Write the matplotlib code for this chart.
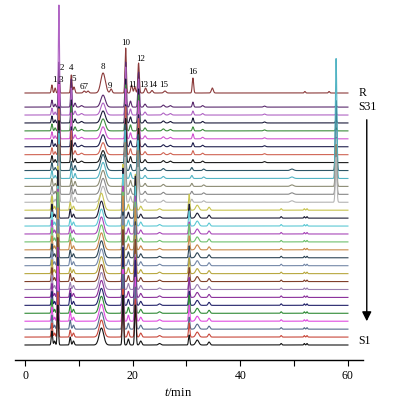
import numpy as np
import matplotlib
matplotlib.use('Agg')
import matplotlib.pyplot as plt

plt.rcParams['font.family'] = 'Liberation Serif'
plt.rcParams['mathtext.fontset'] = 'custom'
plt.rcParams['mathtext.rm'] = 'Liberation Serif'
plt.rcParams['mathtext.it'] = 'Liberation Serif:italic'

# ---- data ----
# trace colours, S1 .. S31, then reference R
colors_S = ['#141414', '#c8473a', '#566a8a', '#e04ce0', '#2f8a35', '#22226a', '#8a2f9a', '#9a80b0',
            '#80402a', '#b8a840', '#7488a8', '#2f4656', '#c88a4a', '#6ec06e', '#a848b8', '#5cc8d4',
            '#1c1c34', '#c8c450', '#b4b4b4', '#888888', '#8c8c74', '#52b4c4', '#2e5666', '#1a1a1a',
            '#d06454', '#20204e', '#d055d0', '#3c8c3c', '#1a1a3a', '#b064c4', '#5a2a6e']
color_R = '#8b3a3a'

# reference R: peak times (min), widths (min), heights
R_t = [5.0, 5.6, 6.3, 8.6, 9.1, 11.0, 11.7, 14.5, 16.0, 18.7, 19.8, 20.4, 21.1, 22.4, 23.6, 26.0, 31.2, 34.8, 52.0, 56.5]
R_w = [0.12, 0.12, 0.11, 0.12, 0.15, 0.18, 0.18, 0.42, 0.18, 0.12, 0.15, 0.15, 0.13, 0.18, 0.18, 0.22, 0.13, 0.18, 0.12, 0.12]
R_h = [8, 5, 22, 18, 6, 2, 2, 20, 4, 45, 8, 6, 30, 5, 2.5, 2, 15, 5, 1.5, 1.5]

# sample groups: times / widths / base heights (key peaks filled per trace)
top_t = [5.0, 5.6, 6.3, 8.6, 9.3, 10.5, 14.5, 18.7, 19.6, 21.1, 22.3, 25.7, 27.0, 31.2, 33.0, 44.5, 57.8]
top_w = [0.12, 0.12, 0.11, 0.11, 0.15, 0.22, 0.42, 0.12, 0.15, 0.13, 0.18, 0.22, 0.22, 0.13, 0.18, 0.2, 0.12]
top_h = [7, 3, 0, 0, 4, 1.5, 12, 0, 6, 0, 3, 2, 1.5, 0, 1.5, 1, 0]

mid_t = [5.0, 5.6, 6.3, 8.6, 9.3, 14.5, 18.6, 19.6, 21.0, 22.3, 25.7, 31.0, 33.2, 49.6, 57.8]
mid_w = [0.12, 0.12, 0.11, 0.11, 0.15, 0.45, 0.12, 0.15, 0.13, 0.18, 0.22, 0.15, 0.18, 0.3, 0.14]
mid_h = [8, 3, 0, 0, 5, 16, 0, 6, 0, 3, 2, 0, 1.5, 1.5, 0]

bot_t = [5.0, 5.5, 6.1, 8.4, 9.0, 14.2, 18.2, 19.2, 20.5, 21.5, 25.0, 30.5, 32.0, 34.2, 47.6, 51.9, 52.4]
bot_w = [0.12, 0.12, 0.11, 0.12, 0.15, 0.42, 0.12, 0.15, 0.13, 0.18, 0.22, 0.12, 0.28, 0.18, 0.12, 0.1, 0.1]
bot_h = [14, 4, 0, 0, 4, 17, 0, 6, 0, 4, 1.5, 0, 5, 3, 1.5, 1.5, 1.5]

# key peak heights per sample, S1 .. S31 (peak 2, peak 4, peak 10, peak 12, late peak)
h_p2 = [40, 45, 38, 55, 42, 48, 50, 36, 44, 40, 46, 38, 42, 50, 45, 40, 48, 44,
        40, 38, 42, 45, 40,
        42, 46, 40, 55, 44, 40, 110, 45]
h_p4 = [8, 7, 9, 10, 8, 12, 9, 7, 8, 6, 9, 8, 10, 9, 8, 7, 9, 8,
        10, 9, 8, 10, 9,
        22, 24, 20, 26, 25, 23, 27, 28]
h_p10 = [50, 48, 55, 52, 46, 58, 50, 44, 52, 48, 50, 46, 54, 50, 48, 52, 50, 46,
         45, 42, 44, 48, 46,
         44, 48, 42, 50, 46, 44, 48, 45]
h_p12 = [40, 38, 42, 44, 36, 45, 40, 35, 42, 38, 40, 36, 42, 40, 38, 40, 42, 36,
         35, 34, 36, 38, 36,
         34, 36, 32, 38, 36, 34, 36, 35]
h_late = [10, 14, 12, 16, 18, 14, 20, 12, 14, 16, 10, 12, 14, 18, 12, 15, 14, 16,
          45, 40, 42, 120, 70,
          1.5, 1.5, 1.5, 1.5, 3, 3, 1.5, 1.5]
h_p16 = [0] * 18 + [3, 3, 3, 3, 3] + [3, 4, 4, 5, 4, 5, 4, 5]

groups = {'bot': (bot_t, bot_w, bot_h, [2, 3, 6, 8, 11]),
          'mid': (mid_t, mid_w, mid_h, [2, 3, 6, 8, 14]),
          'top': (top_t, top_w, top_h, [2, 3, 7, 9, 16])}
group_of = ['bot'] * 18 + ['mid'] * 5 + ['top'] * 8

peak_labels = ['1', '3', '2', '4', '5', '67', '8', '9', '10', '11', '12', '13', '14', '15', '16']
peak_lx = [5.4, 6.6, 6.8, 8.5, 9.0, 10.9, 14.5, 15.8, 18.8, 20.0, 21.4, 22.1, 23.8, 25.8, 31.2]
peak_ly = [280, 280, 292, 292, 281, 273, 293, 274, 317, 275, 301, 275, 275, 275, 288]

x = np.linspace(0, 60, 4001)


def chrom(times, widths, heights):
    y = np.zeros_like(x)
    for t, w, h in zip(times, widths, heights):
        y += h * np.exp(-0.5 * ((x - t) / w) ** 2)
    return y


step = 7.93
base_S1 = 15
base_R = 267

fig = plt.figure(figsize=(3.93, 4.07), dpi=100)
ax = fig.add_axes([15 / 393, 47 / 407, 348 / 393, 360 / 407])

# reference on top row
ax.plot(x, base_R + chrom(R_t, R_w, R_h), color=color_R, lw=0.8, zorder=2)

for i in range(30, -1, -1):
    t, w, h, key = groups[group_of[i]]
    h = list(h)
    for k, v in zip(key, [h_p2[i], h_p4[i], h_p10[i], h_p12[i], h_late[i]]):
        h[k] = v
    if group_of[i] == 'top':
        h[13] = h_p16[i]
    elif group_of[i] == 'mid':
        h[11] = h_p16[i]
    y = base_S1 + i * step + chrom(t, w, h)
    ax.plot(x, y, color=colors_S[i], lw=0.8, zorder=3 + (30 - i) * 0.01)

for lab, lx, ly in zip(peak_labels, peak_lx, peak_ly):
    ax.text(lx, ly, lab, fontsize=6.5, ha='center', va='center', zorder=5)

ax.text(61.9, 267, 'R', fontsize=8.5, ha='left', va='center')
ax.text(61.9, 253, 'S31', fontsize=8.5, ha='left', va='center')
ax.text(61.9, 19, 'S1', fontsize=8.5, ha='left', va='center')
ax.annotate('', xy=(63.5, 36), xytext=(63.5, 243),
            arrowprops=dict(arrowstyle='-|>', color='black', lw=1.0, mutation_scale=14),
            annotation_clip=False)

ax.set_xlim(-1.86, 62.8)
ax.set_ylim(0, 360)
for s in ['left', 'right', 'top']:
    ax.spines[s].set_visible(False)
ax.spines['bottom'].set_linewidth(1.0)
ax.set_yticks([])
ax.set_xticks([0, 20, 40, 60])
ax.set_xticks([10, 30, 50], minor=True)
ax.tick_params(axis='x', which='both', direction='out', length=4, width=0.8, pad=3, labelsize=8.5)
ax.set_xlabel('$t$/min', fontsize=9)
ax.xaxis.set_label_coords(0.47, -0.075)

fig.savefig('out.png', dpi=100)
